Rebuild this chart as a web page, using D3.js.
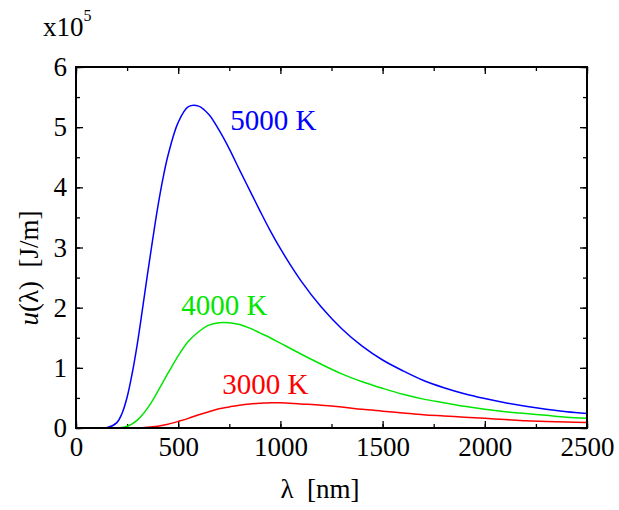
<!DOCTYPE html>
<html>
<head>
<meta charset="utf-8">
<script src="https://cdn.jsdelivr.net/npm/d3@7"></script>
<style>
  body { margin: 0; background: #fff; }
  text { font-family: 'Liberation Serif', 'Times New Roman', serif; }
</style>
</head>
<body>
<div id="chart"></div>
<script>
const w = 619;
const h = 510;
const margin = { top: 67, right: 32, bottom: 82, left: 76 };

// wavelength samples in nm
const lambdaNm = [0, 100, 150, 200, 225, 250, 275, 300, 325, 350,
  375, 400, 425, 450, 500, 550, 600, 650, 700, 750,
  800, 850, 900, 950, 1000, 1100, 1200, 1300, 1400, 1500,
  1600, 1700, 1800, 1900, 2000, 2100, 2200, 2300, 2400, 2500];

// u(lambda) in units of 1e5 J/m
const u5000 = [0, 0, 0.003, 0.09, 0.24, 0.51, 0.91, 1.40, 1.97, 2.56,
  3.13, 3.67, 4.14, 4.53, 5.08, 5.34, 5.35, 5.21, 4.95, 4.64,
  4.29, 3.95, 3.61, 3.28, 2.98, 2.45, 2.01, 1.65, 1.36, 1.13,
  0.95, 0.79, 0.67, 0.57, 0.49, 0.42, 0.36, 0.31, 0.27, 0.24];
const u4000 = [0, 0, 0, 0.002, 0.01, 0.03, 0.07, 0.13, 0.22, 0.33,
  0.46, 0.61, 0.76, 0.91, 1.20, 1.44, 1.60, 1.71, 1.75, 1.75,
  1.72, 1.66, 1.58, 1.50, 1.41, 1.23, 1.06, 0.90, 0.77, 0.66,
  0.56, 0.48, 0.42, 0.36, 0.31, 0.27, 0.24, 0.21, 0.18, 0.16];
const u3000 = [0, 0, 0, 0, 0, 0, 0.001, 0.002, 0.005, 0.011,
  0.019, 0.03, 0.045, 0.064, 0.11, 0.16, 0.22, 0.27, 0.32, 0.35,
  0.38, 0.40, 0.41, 0.42, 0.42, 0.40, 0.38, 0.35, 0.31, 0.28,
  0.25, 0.22, 0.20, 0.18, 0.16, 0.14, 0.12, 0.11, 0.10, 0.09];

const seriesNames = ['5000 K', '4000 K', '3000 K'];
const seriesColors = ['#0000ff', '#00e600', '#ff0000'];
const seriesValues = [u5000, u4000, u3000];
// where each curve label sits, in data units (lambda, u)
const labelPos = [[755, 4.96], [515, 1.88], [715, 0.56]];

const xTicks = [0, 500, 1000, 1500, 2000, 2500];
const yTicks = [0, 1, 2, 3, 4, 5, 6];

const xScale = d3.scaleLinear().domain([0, 2500]).range([margin.left, w - margin.right]);
const yScale = d3.scaleLinear().domain([0, 6]).range([h - margin.bottom, margin.top]);

const svg = d3.select('#chart').append('svg')
  .attr('width', w)
  .attr('height', h)
  .style('background', '#fff');

const x0 = margin.left, x1 = w - margin.right;
const y0 = h - margin.bottom, y1 = margin.top;

// minor ticks (inward, all four sides)
const minorX = d3.range(0, 2501, 250);
const minorY = d3.range(0, 6.01, 0.5);
const styleAxis = (g) => {
  g.select('.domain').remove();
  g.selectAll('.tick line').attr('stroke', '#000').attr('stroke-width', 1.3);
};

svg.append('g').attr('transform', `translate(0,${y0})`)
  .call(d3.axisBottom(xScale).tickValues(minorX).tickSize(-4).tickFormat(''))
  .call(styleAxis);
svg.append('g').attr('transform', `translate(0,${y1})`)
  .call(d3.axisTop(xScale).tickValues(minorX).tickSize(-4).tickFormat(''))
  .call(styleAxis);
svg.append('g').attr('transform', `translate(${x0},0)`)
  .call(d3.axisLeft(yScale).tickValues(minorY).tickSize(-4).tickFormat(''))
  .call(styleAxis);
svg.append('g').attr('transform', `translate(${x1},0)`)
  .call(d3.axisRight(yScale).tickValues(minorY).tickSize(-4).tickFormat(''))
  .call(styleAxis);

// major ticks with labels
const xAxis = svg.append('g').attr('transform', `translate(0,${y0})`)
  .call(d3.axisBottom(xScale).tickValues(xTicks).tickSize(-7).tickPadding(9).tickFormat(d3.format('d')))
  .call(styleAxis);
xAxis.selectAll('text').attr('font-size', 27).attr('fill', '#000')
  .attr('font-family', "'Liberation Serif', serif");

svg.append('g').attr('transform', `translate(0,${y1})`)
  .call(d3.axisTop(xScale).tickValues(xTicks).tickSize(-7).tickFormat(''))
  .call(styleAxis);

const yAxis = svg.append('g').attr('transform', `translate(${x0},0)`)
  .call(d3.axisLeft(yScale).tickValues(yTicks).tickSize(-7).tickPadding(9).tickFormat(d3.format('d')))
  .call(styleAxis);
yAxis.selectAll('text').attr('font-size', 27).attr('fill', '#000')
  .attr('font-family', "'Liberation Serif', serif");

svg.append('g').attr('transform', `translate(${x1},0)`)
  .call(d3.axisRight(yScale).tickValues(yTicks).tickSize(-7).tickFormat(''))
  .call(styleAxis);

// curves
const line = d3.line()
  .x((d) => xScale(d[0]))
  .y((d) => Math.min(yScale(d[1]), y0))
  .curve(d3.curveCatmullRom.alpha(0.5));

seriesValues.forEach((vals, i) => {
  svg.append('path')
    .datum(lambdaNm.map((l, j) => [l, vals[j]]))
    .attr('fill', 'none')
    .attr('stroke', seriesColors[i])
    .attr('stroke-width', 1.5)
    .attr('d', line);

  svg.append('text')
    .attr('x', xScale(labelPos[i][0]))
    .attr('y', yScale(labelPos[i][1]))
    .attr('font-size', 29)
    .attr('fill', seriesColors[i])
    .text(seriesNames[i]);
});

// frame
svg.append('rect')
  .attr('x', x0).attr('y', y1)
  .attr('width', x1 - x0).attr('height', y0 - y1)
  .attr('fill', 'none')
  .attr('stroke', '#000')
  .attr('stroke-width', 2);

// axis titles
svg.append('text')
  .attr('x', 320)
  .attr('y', 498)
  .attr('text-anchor', 'middle')
  .attr('font-size', 27)
  .attr('xml:space', 'preserve')
  .text('λ  [nm]');

const yTitle = svg.append('text')
  .attr('transform', 'translate(38,268) rotate(-90)')
  .attr('text-anchor', 'middle')
  .attr('font-size', 27)
  .attr('xml:space', 'preserve');
yTitle.append('tspan').attr('font-style', 'italic').text('u');
yTitle.append('tspan').text('(λ)  [J/m]');

// exponent marker
const expo = svg.append('text')
  .attr('x', 43)
  .attr('y', 36)
  .attr('font-size', 27);
expo.append('tspan').text('x10');
expo.append('tspan').attr('font-size', 16).attr('dy', -15).text('5');
</script>
</body>
</html>
